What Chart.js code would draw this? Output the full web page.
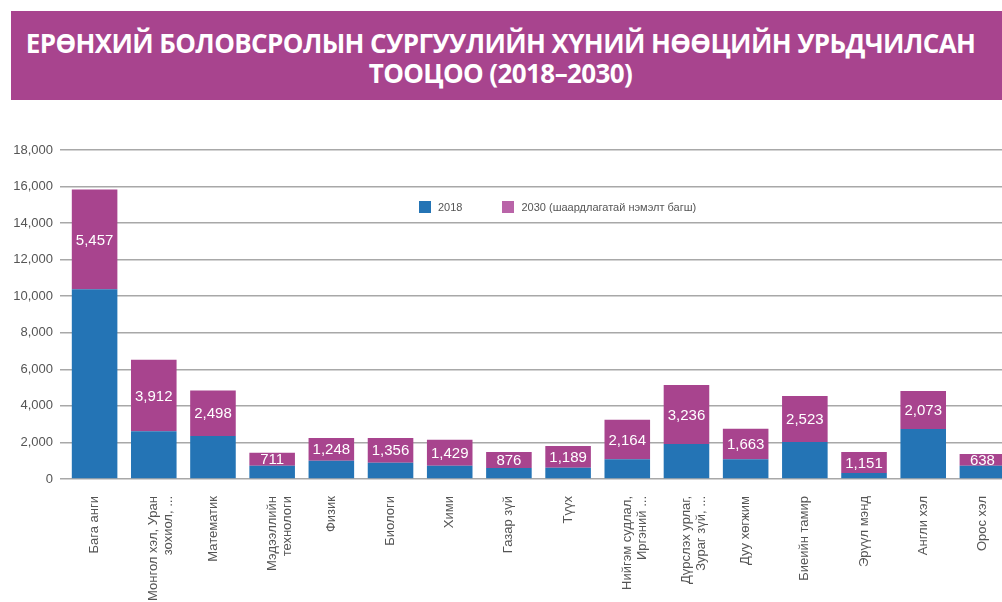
<!DOCTYPE html>
<html>
<head>
<meta charset="utf-8">
<script src="https://cdn.jsdelivr.net/npm/chart.js@4"></script>
<style>
  body { margin: 0; background: #fff; width: 1002px; height: 602px; overflow: hidden; position: relative; font-family: 'Liberation Sans', Arial, sans-serif; }
  .banner { position: absolute; left: 11px; top: 11px; width: 991px; height: 89px; background: #A8448E; }
  .banner h1 { margin: 0; padding: 17px 12px 0 0; color: #fff; font-family: 'Open Sans', sans-serif; font-weight: 700; font-size: 26px; line-height: 30px; text-align: center; letter-spacing: -0.6px; }
  .chart-wrap { position: absolute; left: 0; top: 105px; width: 1012px; height: 497px; }
  .legend { position: absolute; top: 201px; left: 419px; font-size: 11px; color: #555; display: flex; align-items: center; }
  .legend span.box { display: inline-block; width: 12px; height: 12px; margin-right: 7px; }
  .legend span.lbl { margin-right: 40px; }
</style>
</head>
<body>
<div class="banner"><h1>ЕРӨНХИЙ БОЛОВСРОЛЫН СУРГУУЛИЙН ХҮНИЙ НӨӨЦИЙН УРЬДЧИЛСАН<br>ТООЦОО (2018–2030)</h1></div>
<div class="chart-wrap"><canvas id="teachers-chart" width="1012" height="497"></canvas></div>
<div class="legend">
  <span class="box" style="background:#2474B5"></span><span class="lbl">2018</span>
  <span class="box" style="background:#B964A8"></span><span>2030 (шаардлагатай нэмэлт багш)</span>
</div>
<script>
const subjects = [
  'Бага анги',
  ['Монгол хэл, Уран', 'зохиол, ...'],
  'Математик',
  ['Мэдээллийн', 'технологи'],
  'Физик',
  'Биологи',
  'Хими',
  'Газар зүй',
  'Түүх',
  ['Нийгэм судлал,', 'Иргэний ...'],
  ['Дүрслэх урлаг,', 'Зураг зүй, ...'],
  'Дуу хөгжим',
  'Биеийн тамир',
  'Эрүүл мэнд',
  'Англи хэл',
  'Орос хэл',
];
const teachers2018 = [10380, 2610, 2350, 720, 1000, 890, 720, 600, 620, 1080, 1910, 1080, 2020, 330, 2740, 730];
const extra2030 = [5457, 3912, 2498, 711, 1248, 1356, 1429, 876, 1189, 2164, 3236, 1663, 2523, 1151, 2073, 638];
const yTicks = [0, 2000, 4000, 6000, 8000, 10000, 12000, 14000, 16000, 18000];

const fmt = (v) => v.toLocaleString('en-US');

const segmentLabels = {
  id: 'segmentLabels',
  afterDatasetsDraw(chart) {
    const { ctx } = chart;
    const meta = chart.getDatasetMeta(1);
    ctx.save();
    ctx.fillStyle = '#fff';
    ctx.font = '15px "Liberation Sans", Arial, sans-serif';
    ctx.textAlign = 'center';
    ctx.textBaseline = 'middle';
    meta.data.forEach((bar, i) => {
      const mid = (bar.y + bar.base) / 2;
      ctx.fillText(fmt(extra2030[i]), bar.x, mid + 1);
    });
    ctx.restore();
  },
};

new Chart(document.getElementById('teachers-chart'), {
  type: 'bar',
  data: {
    labels: subjects,
    datasets: [
      { label: '2018', data: teachers2018, backgroundColor: '#2474B5' },
      { label: '2030 (шаардлагатай нэмэлт багш)', data: extra2030, backgroundColor: '#A8448E' },
    ],
  },
  options: {
    responsive: false,
    animation: false,
    layout: { padding: { top: 45, right: 0, left: 0, bottom: 0 } },
    datasets: { bar: { barPercentage: 0.77, categoryPercentage: 1 } },
    plugins: { legend: { display: false }, tooltip: { enabled: false } },
    scales: {
      x: {
        stacked: true,
        grid: { display: false },
        border: { display: false },
        ticks: {
          color: '#555',
          font: { size: 13, family: '"Liberation Sans", Arial, sans-serif', lineHeight: 1.15 },
          maxRotation: 90,
          minRotation: 90,
          autoSkip: false,
          padding: 9,
        },
        afterFit: (s) => { s.height = 123; },
      },
      y: {
        stacked: true,
        min: 0,
        max: 18000,
        afterBuildTicks: (s) => { s.ticks = yTicks.map((v) => ({ value: v })); },
        grid: { color: '#a8a8a8', lineWidth: 1.5, tickLength: 5 },
        border: { display: false },
        ticks: {
          color: '#555',
          font: { size: 13, family: '"Liberation Sans", Arial, sans-serif' },
          padding: 7,
          callback: (v) => fmt(v),
        },
        afterFit: (s) => { s.width = 65; },
      },
    },
  },
  plugins: [segmentLabels],
});
</script>
</body>
</html>
